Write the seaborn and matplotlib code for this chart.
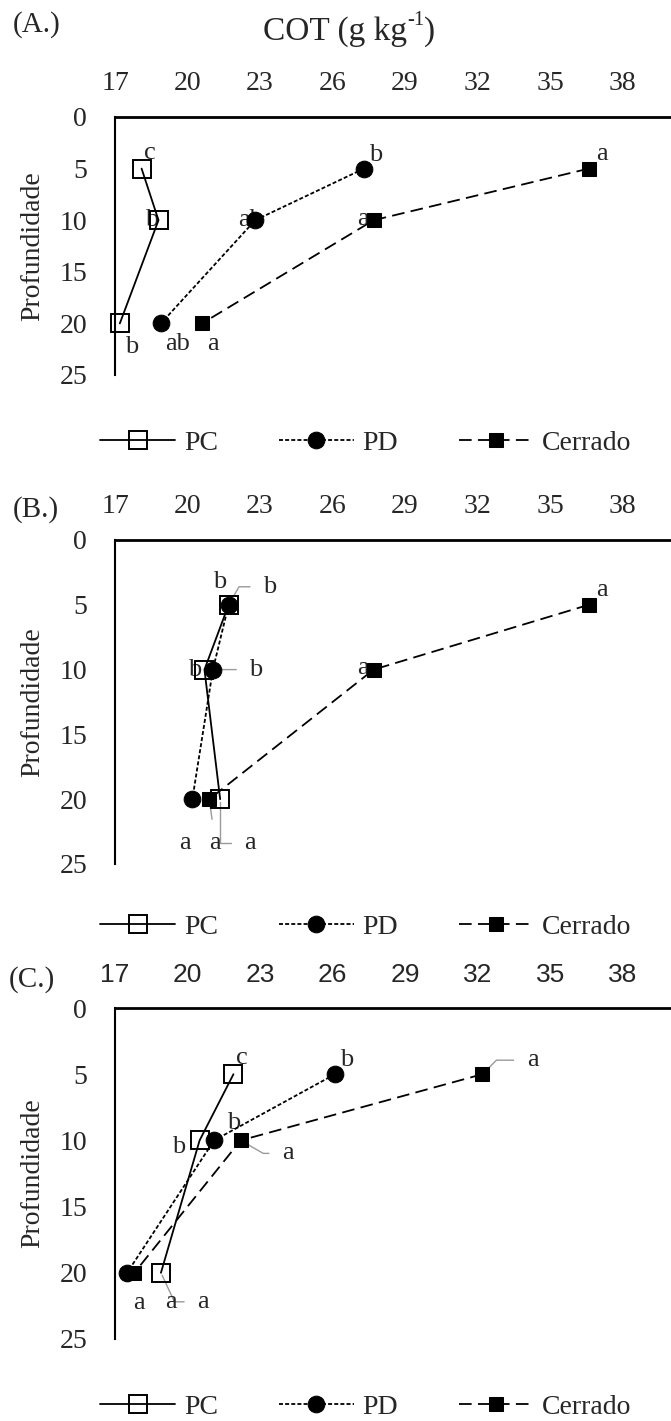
import matplotlib
matplotlib.use("Agg")
import matplotlib.pyplot as plt
import seaborn as sns

# ---------------- data ----------------
depth = [5, 10, 20]
series_names = ["PC", "PD", "Cerrado"]

# Panel A
pc_a = [18.1, 18.8, 17.2]
pd_a = [27.3, 22.8, 18.9]
cer_a = [36.6, 27.7, 20.6]
# Panel B
pc_b = [21.7, 20.7, 21.35]
pd_b = [21.7, 21.05, 20.2]
cer_b = [36.6, 27.7, 20.9]
# Panel C
pc_c = [21.9, 20.5, 18.9]
pd_c = [26.1, 21.1, 17.5]
cer_c = [32.2, 22.2, 17.8]

# significance letters
let_a = {"PC": ["c", "b", "b"], "PD": ["b", "ab", "ab"], "Cerrado": ["a", "a", "a"]}
let_b = {"PC": ["b", "b", "a"], "PD": ["b", "b", "a"], "Cerrado": ["a", "a", "a"]}
let_c = {"PC": ["c", "b", "a"], "PD": ["b", "b", "a"], "Cerrado": ["a", "a", "a"]}

x_ticks = [17, 20, 23, 26, 29, 32, 35, 38]
y_ticks = [0, 5, 10, 15, 20, 25]
panel_tags = ["(A.)", "(B.)", "(C.)"]
x_title_parts = ["COT (g kg", "-1", ")"]
y_title = "Profundidade"

# ---------------- styles ----------------
sns.set_style("white")
SERIF = ["Liberation Serif", "DejaVu Serif"]
SANS = ["Liberation Sans", "DejaVu Sans"]
plt.rcParams["font.family"] = SERIF

styles = {
    "PC": dict(linestyle="-", marker="s", markersize=12.5, markerfacecolor="none",
               markeredgecolor="black", markeredgewidth=1.4, linewidth=1.3),
    "PD": dict(linestyle=(0, (2.2, 1.2)), marker="o", markersize=12,
               markerfacecolor="black", markeredgecolor="black", linewidth=1.3),
    "Cerrado": dict(linestyle=(0, (7, 3.5)), marker="s", markersize=10,
                    markerfacecolor="black", markeredgecolor="black", linewidth=1.3),
}

# label offsets in pixels (dx right, dy down), leader: None / "line" / angle
offs_a = {"PC": [(8, -16, None), (-7, 0, None), (12, 24, None)],
          "PD": [(12, -14, None), (-5, 0, None), (17, 21, None)],
          "Cerrado": [(13, -15, None), (-11, -1, None), (11, 21, None)]}
offs_b = {"PC": [(-9, -23, None), (-10, 0, None), (30, 44, 90)],
          "PD": [(41, -18, 60), (43, 0, "line"), (-7, 44, None)],
          "Cerrado": [(13, -15, None), (-11, -2, None), (6, 44, "line")]}
offs_c = {"PC": [(8, -16, None), (-21, 7, None), (42, 29, -65)],
          "PD": [(12, -14, None), (20, -17, None), (12, 30, None)],
          "Cerrado": [(50, -14, 45), (47, 13, -30), (37, 29, None)]}

W, H = 671, 1421
rects = [
    (115 / W, 1 - 375 / H, 1 - 115 / W, (375 - 117) / H),
    (115 / W, 1 - 864 / H, 1 - 115 / W, (864 - 540) / H),
    (115 / W, 1 - 1339 / H, 1 - 115 / W, (1339 - 1008) / H),
]
tag_pos = [(13, 25), (13, 510), (9, 980)]
legend_y = [443, 927, 1407]

panels = [
    ({"PC": pc_a, "PD": pd_a, "Cerrado": cer_a}, let_a, offs_a, SERIF, 20),
    ({"PC": pc_b, "PD": pd_b, "Cerrado": cer_b}, let_b, offs_b, SERIF, 20),
    ({"PC": pc_c, "PD": pd_c, "Cerrado": cer_c}, let_c, offs_c, SANS, 19),
]

fig = plt.figure(figsize=(W / 100, H / 100), dpi=100)

for i, (vals, lets, offs, tickfont, tsize) in enumerate(panels):
    ax = fig.add_axes(rects[i])
    for name in series_names:
        sns.lineplot(x=vals[name], y=depth, sort=False, estimator=None, ax=ax,
                     color="black", label=name, legend=False, zorder=3,
                     clip_on=False, **styles[name])
    ax.set_xlim(17, 40)
    ax.set_ylim(25, 0)
    ax.set_xticks(x_ticks)
    ax.set_yticks(y_ticks)
    ax.xaxis.tick_top()
    ax.set_xticklabels([str(t) for t in x_ticks], fontsize=tsize, family=tickfont)
    ax.set_yticklabels([str(t) for t in y_ticks], fontsize=20, family=SERIF)
    ax.tick_params(axis="x", length=0, pad=15)
    ax.tick_params(axis="y", length=0, pad=20)
    for s in ["right", "bottom"]:
        ax.spines[s].set_visible(False)
    ax.spines["top"].set_linewidth(2.0)
    ax.spines["left"].set_linewidth(1.5)
    for s in ["top", "left"]:
        ax.spines[s].set_color("black")
    ax.set_ylabel(y_title, fontsize=20, labelpad=10)
    ax.grid(False)

    # letters
    for name in series_names:
        for k, d in enumerate(depth):
            dx, dy, lead = offs[name][k]
            arrow = None
            if lead == "line":
                arrow = dict(arrowstyle="-", color="#9a9a9a", lw=1.0,
                             shrinkA=7, shrinkB=2)
            elif lead is not None:
                arrow = dict(arrowstyle="-", color="#9a9a9a", lw=1.0,
                             shrinkA=7, shrinkB=2,
                             connectionstyle=f"angle,angleA=0,angleB={lead},rad=0")
            ax.annotate(lets[name][k], xy=(vals[name][k], d),
                        xytext=(dx, -dy), textcoords="offset pixels",
                        ha="center", va="center", fontsize=19, family=SERIF,
                        zorder=1, arrowprops=arrow, annotation_clip=False)

    fig.text(tag_pos[i][0] / W, 1 - tag_pos[i][1] / H, panel_tags[i],
             fontsize=21, ha="left", va="center", family=SERIF)

    handles, labels = ax.get_legend_handles_labels()
    fig.legend(handles, labels, loc="center",
               bbox_to_anchor=(366 / W, 1 - legend_y[i] / H), ncol=3,
               frameon=False, fontsize=20, handlelength=2.7,
               handletextpad=0.3, columnspacing=2.2, borderaxespad=0)

# axis title with small raised "-1"
t1 = fig.text(263 / W, 1 - 32 / H, x_title_parts[0], fontsize=24, ha="left",
              va="center", family=SERIF)
fig.canvas.draw()
r = fig.canvas.get_renderer()
bb1 = t1.get_window_extent(r)
t2 = fig.text(bb1.x1 / W, (bb1.y0 + 0.55 * bb1.height) / H, x_title_parts[1],
              fontsize=15, ha="left", va="bottom", family=SERIF)
fig.canvas.draw()
bb2 = t2.get_window_extent(r)
fig.text(bb2.x1 / W, bb1.y0 / H, x_title_parts[2], fontsize=24, ha="left",
         va="bottom", family=SERIF)

fig.savefig("out.png", dpi=100)
